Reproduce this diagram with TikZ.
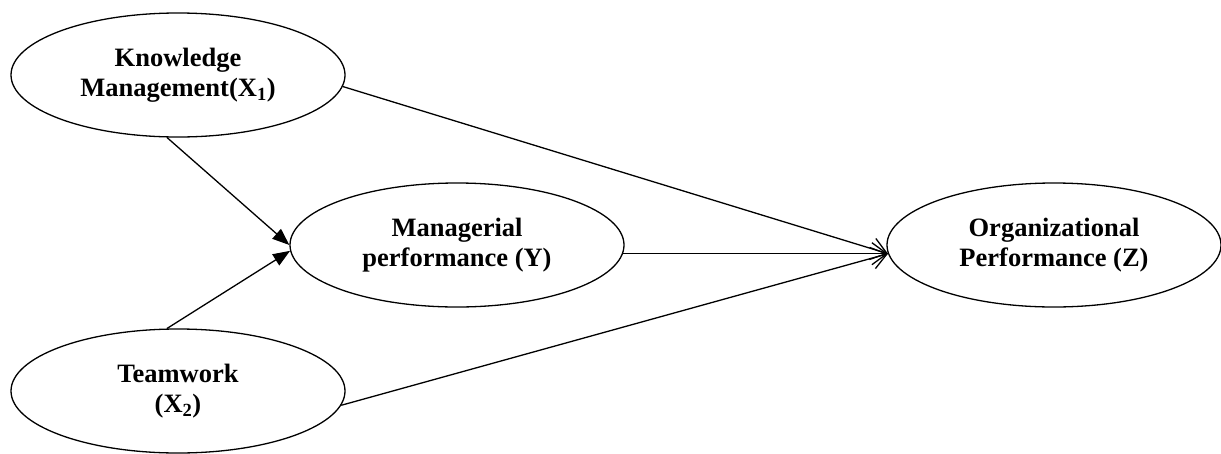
\documentclass[tikz,border=0pt]{standalone}
\usepackage{fontspec}
\setmainfont{Liberation Serif}
\usetikzlibrary{arrows.meta, shapes.geometric}

\begin{document}
\begin{tikzpicture}[
    x=1pt, y=-1pt,
    construct/.style={draw, ellipse, line width=1.3pt, minimum width=334pt, minimum height=124pt, inner sep=0pt, align=center, font=\fontsize{26.5}{30}\selectfont\bfseries},
    solidarrow/.style={-{Triangle[length=17pt, width=13pt]}, line width=1.3pt},
    openarrow/.style={-{Straight Barb[length=15pt, width=22pt, line width=1.3pt]}, line width=1.3pt}
]
\useasboundingbox (0,0) rectangle (1221,453);

% Constructs
\node[construct] (know) at (178,75) {Knowledge\\Management(X\textsubscript{1})};
\node[construct] (team) at (178,391) {Teamwork\\(X\textsubscript{2})};
\node[construct] (manag) at (457,245) {Managerial\\performance (Y)};
\node[construct] (org) at (1054,245) {Organizational\\Performance (Z)};

% Paths
\draw[solidarrow] (know.260) -- (manag.180);
\draw[solidarrow] (team.100) -- (manag.182);
\draw[openarrow] (know.-4) -- (org.183);
\draw[openarrow] (manag.-3) -- (org.183);
\draw[openarrow] (team.-5) -- (org.183);
\end{tikzpicture}
\end{document}
